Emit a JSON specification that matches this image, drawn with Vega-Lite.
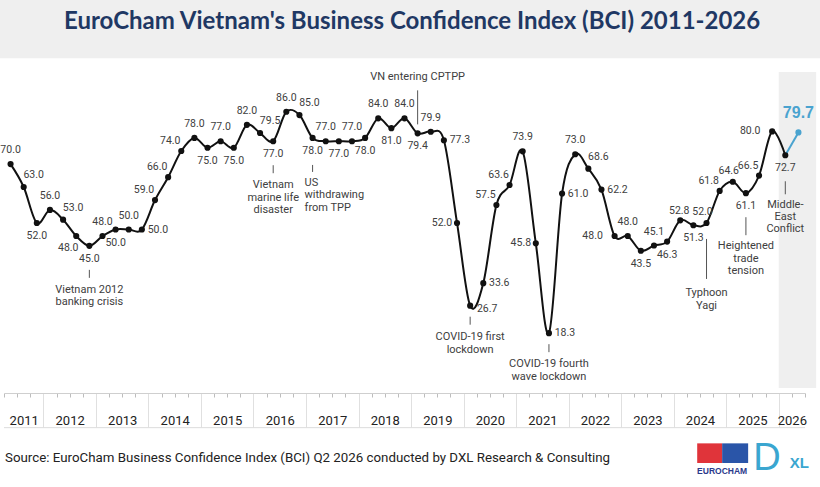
{
  "$schema": "https://vega.github.io/schema/vega-lite/v6.json",
  "width": 801,
  "height": 327,
  "autosize": {"type": "none"},
  "padding": {"left": 4, "top": 66, "right": 15, "bottom": 94},
  "background": "white",
  "data": {
    "values": [
      {"q": "2011 Q2", "i": 0, "v": 70.0},
      {"q": "2011 Q3", "i": 1, "v": 63.0},
      {"q": "2011 Q4", "i": 2, "v": 52.0},
      {"q": "2012 Q1", "i": 3, "v": 56.0},
      {"q": "2012 Q2", "i": 4, "v": 53.0},
      {"q": "2012 Q3", "i": 5, "v": 48.0},
      {"q": "2012 Q4", "i": 6, "v": 45.0, "note": "Vietnam 2012\nbanking crisis"},
      {"q": "2013 Q1", "i": 7, "v": 48.0},
      {"q": "2013 Q2", "i": 8, "v": 50.0},
      {"q": "2013 Q3", "i": 9, "v": 50.0},
      {"q": "2013 Q4", "i": 10, "v": 50.0},
      {"q": "2014 Q1", "i": 11, "v": 59.0},
      {"q": "2014 Q2", "i": 12, "v": 66.0},
      {"q": "2014 Q3", "i": 13, "v": 74.0},
      {"q": "2014 Q4", "i": 14, "v": 78.0},
      {"q": "2015 Q1", "i": 15, "v": 75.0},
      {"q": "2015 Q2", "i": 16, "v": 77.0},
      {"q": "2015 Q3", "i": 17, "v": 75.0},
      {"q": "2015 Q4", "i": 18, "v": 82.0},
      {"q": "2016 Q1", "i": 19, "v": 79.5},
      {"q": "2016 Q2", "i": 20, "v": 77.0, "note": "Vietnam\nmarine life\ndisaster"},
      {"q": "2016 Q3", "i": 21, "v": 86.0},
      {"q": "2016 Q4", "i": 22, "v": 85.0},
      {"q": "2017 Q1", "i": 23, "v": 78.0, "note": "US\nwithdrawing\nfrom TPP"},
      {"q": "2017 Q2", "i": 24, "v": 77.0},
      {"q": "2017 Q3", "i": 25, "v": 77.0},
      {"q": "2017 Q4", "i": 26, "v": 77.0},
      {"q": "2018 Q1", "i": 27, "v": 78.0},
      {"q": "2018 Q2", "i": 28, "v": 84.0},
      {"q": "2018 Q3", "i": 29, "v": 81.0},
      {"q": "2018 Q4", "i": 30, "v": 84.0},
      {"q": "2019 Q1", "i": 31, "v": 79.4, "note": "VN entering CPTPP"},
      {"q": "2019 Q2", "i": 32, "v": 79.9},
      {"q": "2019 Q3", "i": 33, "v": 77.3},
      {"q": "2019 Q4", "i": 34, "v": 52.0},
      {"q": "2020 Q1", "i": 35, "v": 26.7, "note": "COVID-19 first\nlockdown"},
      {"q": "2020 Q2", "i": 36, "v": 33.6},
      {"q": "2020 Q3", "i": 37, "v": 57.5},
      {"q": "2020 Q4", "i": 38, "v": 63.6},
      {"q": "2021 Q1", "i": 39, "v": 73.9},
      {"q": "2021 Q2", "i": 40, "v": 45.8},
      {"q": "2021 Q3", "i": 41, "v": 18.3, "note": "COVID-19 fourth\nwave lockdown"},
      {"q": "2021 Q4", "i": 42, "v": 61.0},
      {"q": "2022 Q1", "i": 43, "v": 73.0},
      {"q": "2022 Q2", "i": 44, "v": 68.6},
      {"q": "2022 Q3", "i": 45, "v": 62.2},
      {"q": "2022 Q4", "i": 46, "v": 48.0},
      {"q": "2023 Q1", "i": 47, "v": 48.0},
      {"q": "2023 Q2", "i": 48, "v": 43.5},
      {"q": "2023 Q3", "i": 49, "v": 45.1},
      {"q": "2023 Q4", "i": 50, "v": 46.3},
      {"q": "2024 Q1", "i": 51, "v": 52.8},
      {"q": "2024 Q2", "i": 52, "v": 51.3},
      {"q": "2024 Q3", "i": 53, "v": 52.0, "note": "Typhoon\nYagi"},
      {"q": "2024 Q4", "i": 54, "v": 61.8},
      {"q": "2025 Q1", "i": 55, "v": 64.6},
      {"q": "2025 Q2", "i": 56, "v": 61.1, "note": "Heightened\ntrade\ntension"},
      {"q": "2025 Q3", "i": 57, "v": 66.5},
      {"q": "2025 Q4", "i": 58, "v": 80.0},
      {"q": "2026 Q1", "i": 59, "v": 72.7, "note": "Middle-\nEast\nConflict"},
      {"q": "2026 Q2", "i": 60, "v": 79.7}
    ]
  },
  "encoding": {
    "x": {
      "field": "i",
      "type": "quantitative",
      "scale": {"domain": [-0.5, 60.5], "nice": false, "zero": false},
      "axis": {
        "orient": "bottom",
        "values": [-0.5, 0.5, 1, 1.5, 2.5, 3.5, 4.5, 5.5, 6.5, 7.5, 8.5, 9.5, 10.5, 11.5, 12.5, 13.5, 14.5, 15.5, 16.5, 17.5, 18.5, 19.5, 20.5, 21.5, 22.5, 23.5, 24.5, 25.5, 26.5, 27.5, 28.5, 29.5, 30.5, 31.5, 32.5, 33.5, 34.5, 35.5, 36.5, 37.5, 38.5, 39.5, 40.5, 41.5, 42.5, 43.5, 44.5, 45.5, 46.5, 47.5, 48.5, 49.5, 50.5, 51.5, 52.5, 53.5, 54.5, 55.5, 56.5, 57.5, 58.5, 59.5, 60.5],
        "labelExpr": "datum.value == 1 ? '2011' : datum.value == 59.5 ? '2026' : (datum.value >= 4.5 && datum.value <= 56.5 && (datum.value - 4.5) % 4 == 0) ? '' + (2012 + (datum.value - 4.5) / 4) : ''",
        "labelOverlap": false,
        "labelFlush": false,
        "labelBound": false,
        "labelFont": "Roboto",
        "labelFontSize": 13,
        "labelColor": "#222222",
        "labelBaseline": "middle",
        "labelAngle": 0,
        "labelPadding": -7,
        "title": null,
        "grid": false,
        "ticks": true,
        "tickSize": 34,
        "tickWidth": 1,
        "tickColor": {"condition": {"test": "datum.value >= 2.5 && datum.value <= 58.5 && (datum.value - 2.5) % 4 == 0", "value": "#e0e0e0"}, "value": "#bdbdbd"},
        "tickDash": {"condition": {"test": "datum.value >= 2.5 && datum.value <= 58.5 && (datum.value - 2.5) % 4 == 0", "value": [34, 1]}, "value": [4, 40]},
        "tickOpacity": {"condition": {"test": "datum.value == 1", "value": 0}, "value": 1},
        "domain": true,
        "domainColor": "#cfcfcf",
        "domainWidth": 1
      }
    },
    "y": {
      "field": "v",
      "type": "quantitative",
      "scale": {"domain": [0, 100], "nice": false},
      "axis": null
    }
  },
  "layer": [
    {
      "transform": [{"filter": "datum.i == 0"}],
      "mark": {"type": "rect", "color": "#efefef"},
      "encoding": {
        "x": {"datum": -0.8, "type": "quantitative"},
        "x2": {"datum": 61.7},
        "y": {"datum": 102.4, "type": "quantitative", "axis": null},
        "y2": {"datum": 120.2}
      }
    },
    {
      "transform": [{"filter": "datum.i == 0"}],
      "mark": {"type": "text", "font": "Lato", "fontSize": 24, "fontWeight": "bold", "color": "#1f3864", "baseline": "middle", "align": "center"},
      "encoding": {
        "x": {"datum": 30.58, "type": "quantitative"},
        "y": {"datum": 113.5, "type": "quantitative", "axis": null},
        "text": {"value": "EuroCham Vietnam's Business Confidence Index (BCI) 2011-2026"}
      }
    },
    {
      "transform": [{"filter": "datum.i == 0"}],
      "mark": {"type": "rect", "color": "#efefef"},
      "encoding": {
        "x": {"datum": 58.5, "type": "quantitative"},
        "x2": {"datum": 61.35},
        "y": {"datum": 1.5, "type": "quantitative", "axis": null},
        "y2": {"datum": 98.2}
      }
    },
    {
      "transform": [{"filter": "datum.i == 0"}],
      "mark": {"type": "rule", "color": "#dcdcdc", "strokeWidth": 1},
      "encoding": {
        "x": {"datum": -0.5, "type": "quantitative"},
        "x2": {"datum": 60.5},
        "y": {"datum": -10.6, "type": "quantitative", "axis": null}
      }
    },
    {
      "transform": [{"filter": "datum.i <= 59"}],
      "mark": {"type": "line", "interpolate": "cardinal", "color": "#111111", "strokeWidth": 2}
    },
    {
      "transform": [{"filter": "datum.i >= 59"}],
      "mark": {"type": "line", "color": "#4aa3cf", "strokeWidth": 2}
    },
    {
      "transform": [{"filter": "datum.i <= 59"}],
      "mark": {"type": "circle", "size": 38, "opacity": 1, "color": "#111111"}
    },
    {
      "transform": [{"filter": "datum.i == 60"}],
      "mark": {"type": "circle", "size": 38, "opacity": 1, "color": "#4aa3cf"}
    },
    {
      "transform": [{"filter": {"field": "i", "oneOf": [0, 3, 7, 9, 14, 16, 18, 21, 24, 26, 28, 30, 32, 39, 43, 47, 49]}}],
      "mark": {"type": "text", "dy": -14, "font": "Roboto", "fontSize": 10.5, "color": "#404040", "baseline": "middle", "align": "center"},
      "encoding": {"text": {"field": "v", "format": ".1f"}}
    },
    {
      "transform": [{"filter": {"field": "i", "oneOf": [51]}}],
      "mark": {"type": "text", "dx": -1, "dy": -9, "font": "Roboto", "fontSize": 10.5, "color": "#404040", "baseline": "middle", "align": "center"},
      "encoding": {"text": {"field": "v", "format": ".1f"}}
    },
    {
      "transform": [{"filter": {"field": "i", "oneOf": [53]}}],
      "mark": {"type": "text", "dx": -4, "dy": -11, "font": "Roboto", "fontSize": 10.5, "color": "#404040", "baseline": "middle", "align": "center"},
      "encoding": {"text": {"field": "v", "format": ".1f"}}
    },
    {
      "transform": [{"filter": {"field": "i", "oneOf": [55]}}],
      "mark": {"type": "text", "dx": -4, "dy": -11, "font": "Roboto", "fontSize": 10.5, "color": "#404040", "baseline": "middle", "align": "center"},
      "encoding": {"text": {"field": "v", "format": ".1f"}}
    },
    {
      "transform": [{"filter": {"field": "i", "oneOf": [1, 4, 19, 22, 44]}}],
      "mark": {"type": "text", "dx": 10, "dy": -12, "font": "Roboto", "fontSize": 10.5, "color": "#404040", "baseline": "middle", "align": "center"},
      "encoding": {"text": {"field": "v", "format": ".1f"}}
    },
    {
      "transform": [{"filter": {"field": "i", "oneOf": [11, 12, 13, 37, 38, 54, 57]}}],
      "mark": {"type": "text", "dx": -11, "dy": -10, "font": "Roboto", "fontSize": 10.5, "color": "#404040", "baseline": "middle", "align": "center"},
      "encoding": {"text": {"field": "v", "format": ".1f"}}
    },
    {
      "transform": [{"filter": {"field": "i", "oneOf": [2, 6, 8, 15, 17, 20, 23, 25, 27, 29, 31, 48, 50, 52, 56, 59]}}],
      "mark": {"type": "text", "dy": 13, "font": "Roboto", "fontSize": 10.5, "color": "#404040", "baseline": "middle", "align": "center"},
      "encoding": {"text": {"field": "v", "format": ".1f"}}
    },
    {
      "transform": [{"filter": {"field": "i", "oneOf": [5]}}],
      "mark": {"type": "text", "dx": -8, "dy": 12, "font": "Roboto", "fontSize": 10.5, "color": "#404040", "baseline": "middle", "align": "center"},
      "encoding": {"text": {"field": "v", "format": ".1f"}}
    },
    {
      "transform": [{"filter": {"field": "i", "oneOf": [10, 33, 36, 41, 42, 45]}}],
      "mark": {"type": "text", "dx": 16, "font": "Roboto", "fontSize": 10.5, "color": "#404040", "baseline": "middle", "align": "center"},
      "encoding": {"text": {"field": "v", "format": ".1f"}}
    },
    {
      "transform": [{"filter": {"field": "i", "oneOf": [35]}}],
      "mark": {"type": "text", "dx": 17, "dy": 3, "font": "Roboto", "fontSize": 10.5, "color": "#404040", "baseline": "middle", "align": "center"},
      "encoding": {"text": {"field": "v", "format": ".1f"}}
    },
    {
      "transform": [{"filter": {"field": "i", "oneOf": [34, 40]}}],
      "mark": {"type": "text", "dx": -15, "font": "Roboto", "fontSize": 10.5, "color": "#404040", "baseline": "middle", "align": "center"},
      "encoding": {"text": {"field": "v", "format": ".1f"}}
    },
    {
      "transform": [{"filter": {"field": "i", "oneOf": [46, 58]}}],
      "mark": {"type": "text", "dx": -22, "font": "Roboto", "fontSize": 10.5, "color": "#404040", "baseline": "middle", "align": "center"},
      "encoding": {"text": {"field": "v", "format": ".1f"}}
    },
    {
      "transform": [{"filter": "datum.i == 60"}],
      "mark": {"type": "text", "dy": -19, "font": "Liberation Sans", "fontSize": 16, "fontWeight": "bold", "color": "#4aa3cf", "baseline": "middle", "align": "center"},
      "encoding": {"text": {"field": "v", "format": ".1f"}}
    },
    {
      "transform": [{"filter": {"field": "i", "oneOf": [6, 20]}}],
      "mark": {"type": "rule", "yOffset": 24, "y2Offset": 32, "color": "#555555", "strokeWidth": 1},
      "encoding": {"y2": {"field": "v"}}
    },
    {
      "transform": [{"filter": {"field": "i", "oneOf": [6, 20]}}],
      "mark": {"type": "text", "dy": 38, "font": "Roboto", "fontSize": 11, "lineHeight": 12.5, "lineBreak": "\n", "color": "#404040", "baseline": "top", "align": "center"},
      "encoding": {"text": {"field": "note"}}
    },
    {
      "transform": [{"filter": "datum.i == 23"}],
      "mark": {"type": "rule", "yOffset": 27, "y2Offset": 34, "color": "#555555", "strokeWidth": 1},
      "encoding": {"y2": {"field": "v"}}
    },
    {
      "transform": [{"filter": "datum.i == 23"}],
      "mark": {"type": "text", "dx": -8, "dy": 39, "font": "Roboto", "fontSize": 11, "lineHeight": 12.5, "lineBreak": "\n", "color": "#404040", "baseline": "top", "align": "left"},
      "encoding": {"text": {"field": "note"}}
    },
    {
      "transform": [{"filter": "datum.i == 31"}],
      "mark": {"type": "rule", "yOffset": -43, "y2Offset": -9, "color": "#555555", "strokeWidth": 1},
      "encoding": {"y2": {"field": "v"}}
    },
    {
      "transform": [{"filter": "datum.i == 31"}],
      "mark": {"type": "text", "dy": -56, "font": "Roboto", "fontSize": 11, "color": "#404040", "baseline": "middle", "align": "center"},
      "encoding": {"text": {"field": "note"}}
    },
    {
      "transform": [{"filter": {"field": "i", "oneOf": [35, 41]}}],
      "mark": {"type": "rule", "yOffset": 11, "y2Offset": 19, "color": "#555555", "strokeWidth": 1},
      "encoding": {"y2": {"field": "v"}}
    },
    {
      "transform": [{"filter": {"field": "i", "oneOf": [35, 41]}}],
      "mark": {"type": "text", "dy": 25, "font": "Roboto", "fontSize": 11, "lineHeight": 13, "lineBreak": "\n", "color": "#404040", "baseline": "top", "align": "center"},
      "encoding": {"text": {"field": "note"}}
    },
    {
      "transform": [{"filter": "datum.i == 53"}],
      "mark": {"type": "rule", "yOffset": 16, "y2Offset": 56, "color": "#555555", "strokeWidth": 1},
      "encoding": {"y2": {"field": "v"}}
    },
    {
      "transform": [{"filter": "datum.i == 53"}],
      "mark": {"type": "text", "dy": 64, "font": "Roboto", "fontSize": 11, "lineHeight": 13, "lineBreak": "\n", "color": "#404040", "baseline": "top", "align": "center"},
      "encoding": {"text": {"field": "note"}}
    },
    {
      "transform": [{"filter": "datum.i == 56"}],
      "mark": {"type": "rule", "yOffset": 24, "y2Offset": 42, "color": "#555555", "strokeWidth": 1},
      "encoding": {"y2": {"field": "v"}}
    },
    {
      "transform": [{"filter": "datum.i == 56"}],
      "mark": {"type": "text", "dy": 47, "font": "Roboto", "fontSize": 11, "lineHeight": 12.5, "lineBreak": "\n", "color": "#404040", "baseline": "top", "align": "center"},
      "encoding": {"text": {"field": "note"}}
    },
    {
      "transform": [{"filter": "datum.i == 59"}],
      "mark": {"type": "rule", "yOffset": 26, "y2Offset": 39, "color": "#555555", "strokeWidth": 1},
      "encoding": {"y2": {"field": "v"}}
    },
    {
      "transform": [{"filter": "datum.i == 59"}],
      "mark": {"type": "text", "dy": 44, "font": "Roboto", "fontSize": 11, "lineHeight": 12, "lineBreak": "\n", "color": "#404040", "baseline": "top", "align": "center"},
      "encoding": {"text": {"field": "note"}}
    },
    {
      "transform": [{"filter": "datum.i == 0"}],
      "mark": {"type": "text", "font": "Roboto", "fontSize": 13.3, "color": "#222222", "baseline": "middle", "align": "left"},
      "encoding": {
        "x": {"datum": -0.42, "type": "quantitative"},
        "y": {"datum": -19.9, "type": "quantitative", "axis": null},
        "text": {"value": "Source: EuroCham Business Confidence Index (BCI) Q2 2026 conducted by DXL Research & Consulting"}
      }
    },
    {
      "transform": [{"filter": "datum.i == 0"}],
      "mark": {"type": "rect", "color": "#e0343a"},
      "encoding": {
        "x": {"datum": 52.29, "type": "quantitative"},
        "x2": {"datum": 54.19},
        "y": {"datum": -15.4, "type": "quantitative", "axis": null},
        "y2": {"datum": -21.4}
      }
    },
    {
      "transform": [{"filter": "datum.i == 0"}],
      "mark": {"type": "rect", "color": "#2a55a8"},
      "encoding": {
        "x": {"datum": 54.19, "type": "quantitative"},
        "x2": {"datum": 56.17},
        "y": {"datum": -15.4, "type": "quantitative", "axis": null},
        "y2": {"datum": -21.4}
      }
    },
    {
      "transform": [{"filter": "datum.i == 0"}],
      "mark": {"type": "text", "font": "Liberation Sans", "fontSize": 8.5, "fontWeight": "bold", "color": "#2b3a8c", "baseline": "middle", "align": "center"},
      "encoding": {
        "x": {"datum": 54.19, "type": "quantitative"},
        "y": {"datum": -23.9, "type": "quantitative", "axis": null},
        "text": {"value": "EUROCHAM"}
      }
    },
    {
      "transform": [{"filter": "datum.i == 0"}],
      "mark": {"type": "text", "font": "Liberation Sans", "fontSize": 38, "color": "#3aa6d0", "baseline": "middle", "align": "center"},
      "encoding": {
        "x": {"datum": 57.6, "type": "quantitative"},
        "y": {"datum": -20.2, "type": "quantitative", "axis": null},
        "text": {"value": "D"}
      }
    },
    {
      "transform": [{"filter": "datum.i == 0"}],
      "mark": {"type": "text", "font": "Liberation Sans", "fontSize": 15, "fontWeight": "bold", "color": "#3aa6d0", "baseline": "middle", "align": "center"},
      "encoding": {
        "x": {"datum": 60.06, "type": "quantitative"},
        "y": {"datum": -21.3, "type": "quantitative", "axis": null},
        "text": {"value": "XL"}
      }
    }
  ],
  "config": {"view": {"stroke": null}}
}
